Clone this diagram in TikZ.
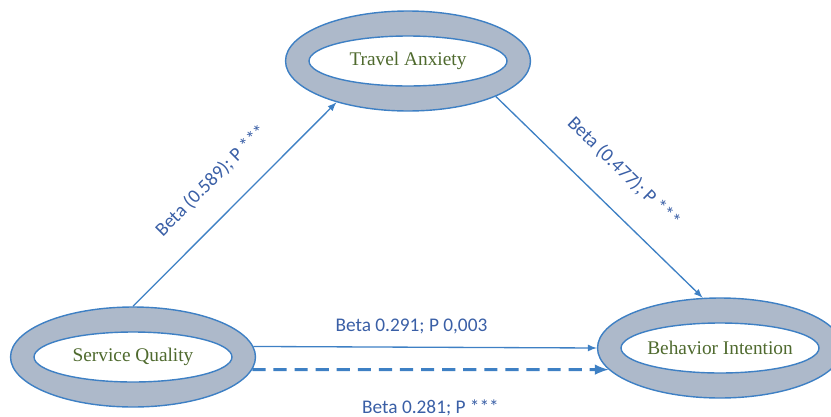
\documentclass[tikz,border=0pt]{standalone}
\usepackage{fontspec}
\setmainfont{Liberation Serif}
\newfontfamily\lblfont{Carlito}
\usetikzlibrary{shapes.geometric}
\definecolor{ringfill}{HTML}{ADB9CA}
\definecolor{ringline}{HTML}{3E80C4}
\definecolor{namegreen}{HTML}{4F6A2E}
\definecolor{lblblue}{HTML}{3A5FA6}
\begin{document}
\begin{tikzpicture}
			[x=0.02cm,y=-0.02cm,
			ring/.style={ellipse,draw=ringline,line width=0.8pt,fill=ringfill,minimum width=4.9cm,minimum height=2cm,inner sep=0pt},
			core/.style={ellipse,draw=ringline,line width=0.8pt,fill=white,minimum width=3.96cm,minimum height=1cm,inner sep=0pt},
			nametext/.style={text=namegreen,font=\fontsize{11}{13}\selectfont},
			lbl/.style={text=lblblue,font=\lblfont\fontsize{11}{13}\selectfont},
			link/.style={-latex,color=ringline,line width=0.75pt}]
			\useasboundingbox (0,0) rectangle (831,416);
			\node[ring] (TA) at (408,61) {};
			\node[core] (TAc) at (TA) {};
			\node[nametext] (TAt) at (TA) {Travel Anxiety};
			\node[ring] (SQ) at (133,357) {};
			\node[core] (SQc) at (SQ) {};
			\node[nametext] (SQt) at (SQ) {Service Quality};
			\node[ring] (BI) at (720,348) {};
			\node[core] (BIc) at (BI) {};
			\node[nametext] (BIt) at (BI) {Behavior Intention};
			\path[link]
			(SQ.north) edge node[lbl,sloped,midway,above=10.5pt] {Beta (0.589); P ***} (TA.210)
			(TA.-22) edge node[lbl,sloped,midway,above=11.5pt] {Beta (0.477); P ***} (BI.109)
			(SQ.5) edge node[lbl,pos=0.46,above=4pt] {Beta 0.291; P 0,003} (BI.west);
			\draw[link,line width=1.7pt,dash pattern=on 7.5pt off 4.5pt]
			(SQ.-6) -- node[lbl,midway,below=13pt] {Beta 0.281; P ***} (BI.191);
		\end{tikzpicture}
\end{document}
